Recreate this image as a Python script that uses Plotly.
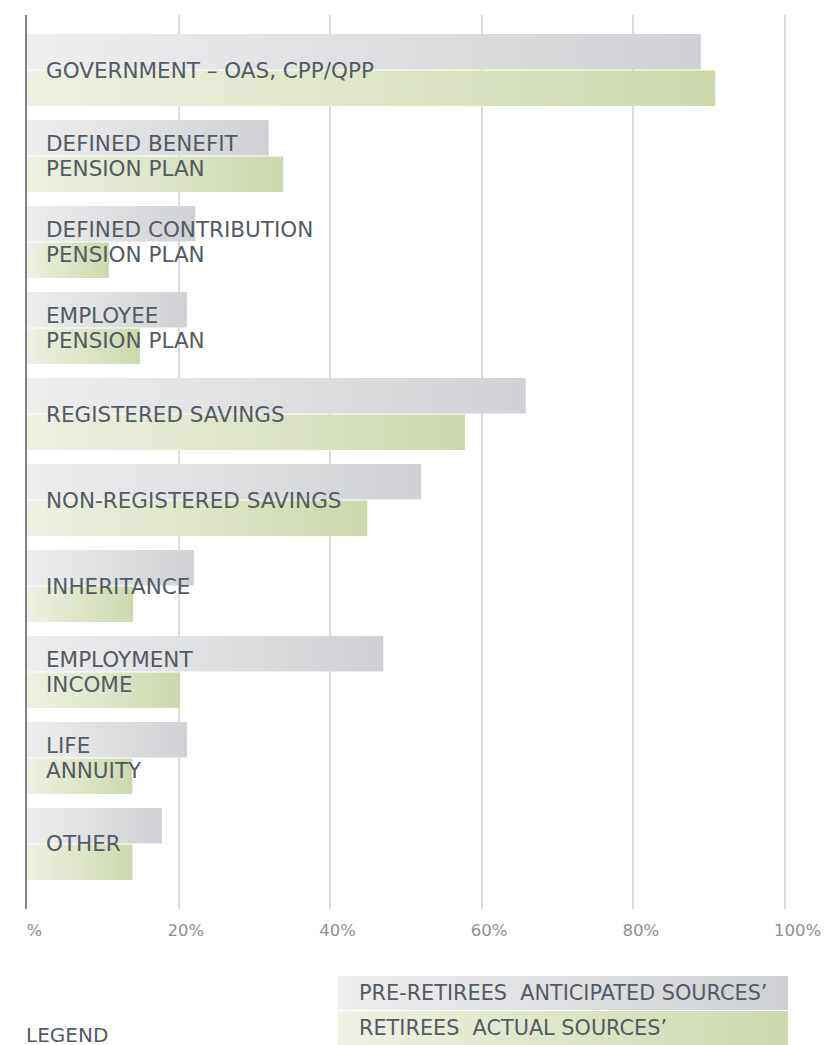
import plotly.graph_objects as go

categories = [
    "GOVERNMENT – OAS, CPP/QPP",
    "DEFINED BENEFIT<br>PENSION PLAN",
    "DEFINED CONTRIBUTION<br>PENSION PLAN",
    "EMPLOYEE<br>PENSION PLAN",
    "REGISTERED SAVINGS",
    "NON-REGISTERED SAVINGS",
    "INHERITANCE",
    "EMPLOYMENT<br>INCOME",
    "LIFE<br>ANNUITY",
    "OTHER",
]
pre_retirees = [88.9, 31.9, 22.2, 21.1, 65.8, 52.0, 22.0, 47.0, 21.1, 17.8]
retirees = [90.8, 33.8, 10.8, 14.9, 57.8, 44.9, 14.0, 20.2, 13.9, 13.9]
series_names = ["PRE-RETIREES  ANTICIPATED SOURCES’", "RETIREES  ACTUAL SOURCES’"]
tick_values = [0, 20, 40, 60, 80, 100]
tick_labels = ["0%", "20%", "40%", "60%", "80%", "100%"]

GRAY = ["#eeeeef", "#d0d1d4"]
GREEN = ["#eff1e5", "#cdd9ac"]
TEXT = "#535a62"
FONT = "DejaVu Sans"

OFF = 8  # page body margin
W, H = 830, 1045
ML, MR, MT, MB = 19, 30, 7, 8
PW = W - ML - MR
PH = H - MT - MB

def px_x(px):
    return (px - OFF - ML) / PW

def px_y(py):
    return (H - MB - (py - OFF)) / PH

fig = go.Figure()

HALF = 0.418
GAP = 0.006
LINE_GAP = 12.5

for i, cat in enumerate(categories):
    for val, cols, y0, y1 in (
        (pre_retirees[i], GRAY, i - HALF, i - GAP),
        (retirees[i], GREEN, i + GAP, i + HALF),
    ):
        fig.add_trace(go.Scatter(
            x=[0, val, val, 0, 0], y=[y0, y0, y1, y1, y0],
            mode="lines", fill="toself", line=dict(width=0),
            fillgradient=dict(type="horizontal", colorscale=[[0, cols[0]], [1, cols[1]]]),
            hoverinfo="skip", showlegend=False, xaxis="x", yaxis="y",
        ))
    lines = cat.split("<br>")
    n = len(lines)
    for j, line in enumerate(lines):
        shift = (((n - 1) / 2) - j) * 2 * LINE_GAP
        fig.add_annotation(
            text=line, xref="x", yref="y", x=0, y=i, xshift=17, yshift=shift,
            xanchor="left", yanchor="middle", align="left", showarrow=False,
            font=dict(family=FONT, size=21.5, color=TEXT),
        )

# legend boxes (second axes)
for k, (name, cols) in enumerate(zip(series_names, (GRAY, GREEN))):
    y0, y1 = (1.015, 2.0) if k == 0 else (0.0, 0.985)
    fig.add_trace(go.Scatter(
        x=[0, 1, 1, 0, 0], y=[y0, y0, y1, y1, y0],
        mode="lines", fill="toself", line=dict(width=0),
        fillgradient=dict(type="horizontal", colorscale=[[0, cols[0]], [1, cols[1]]]),
        hoverinfo="skip", showlegend=False, xaxis="x2", yaxis="y2",
    ))
    fig.add_annotation(
        text=name, xref="x2", yref="y2", x=0, y=(y0 + y1) / 2, xshift=19,
        xanchor="left", yanchor="middle", showarrow=False,
        font=dict(family=FONT, size=20.8, color=TEXT),
    )

fig.add_annotation(
    text="LEGEND", xref="paper", yref="paper", x=px_x(24), y=px_y(1021),
    xanchor="left", yanchor="top", showarrow=False,
    font=dict(family=FONT, size=20, color=TEXT),
)

X_MAX = 100.4
main_bottom = px_y(909)
fig.update_layout(
    width=W, height=H,
    margin=dict(l=ML, r=MR, t=MT, b=MB, pad=0, autoexpand=False),
    paper_bgcolor="white", plot_bgcolor="white",
    showlegend=False,
    xaxis=dict(
        domain=[0, px_x(27 + 7.58 * X_MAX)], range=[0, X_MAX], automargin=False,
        tickvals=tick_values, ticktext=tick_labels,
        showgrid=True, gridcolor="#dcdcdc", gridwidth=2,
        zeroline=False, showline=False, ticks="",
        ticklabelposition="outside right", ticklabelshift=-11,
        ticklabeloverflow="allow", ticklabelstandoff=9,
        tickfont=dict(family=FONT, size=16.5, color="#8a9097"),
        anchor="y", fixedrange=True,
    ),
    yaxis=dict(
        domain=[main_bottom, 1], range=[9.756, -0.64], automargin=False,
        showgrid=False, zeroline=False, showticklabels=False, ticks="",
        showline=True, linecolor="#7c838b", linewidth=1.5,
        anchor="x", fixedrange=True,
    ),
    xaxis2=dict(
        domain=[px_x(338), px_x(788)], range=[0, 1], visible=False,
        anchor="y2", fixedrange=True, automargin=False,
    ),
    yaxis2=dict(
        domain=[0, px_y(976)], range=[0, 2], visible=False,
        anchor="x2", fixedrange=True, automargin=False,
    ),
    shapes=[dict(
        type="rect", xref="paper", yref="paper", layer="above",
        x0=px_x(0), x1=px_x(26), y0=px_y(965), y1=px_y(912),
        fillcolor="white", line=dict(width=0),
    )],
)

fig.write_html("out.html")
